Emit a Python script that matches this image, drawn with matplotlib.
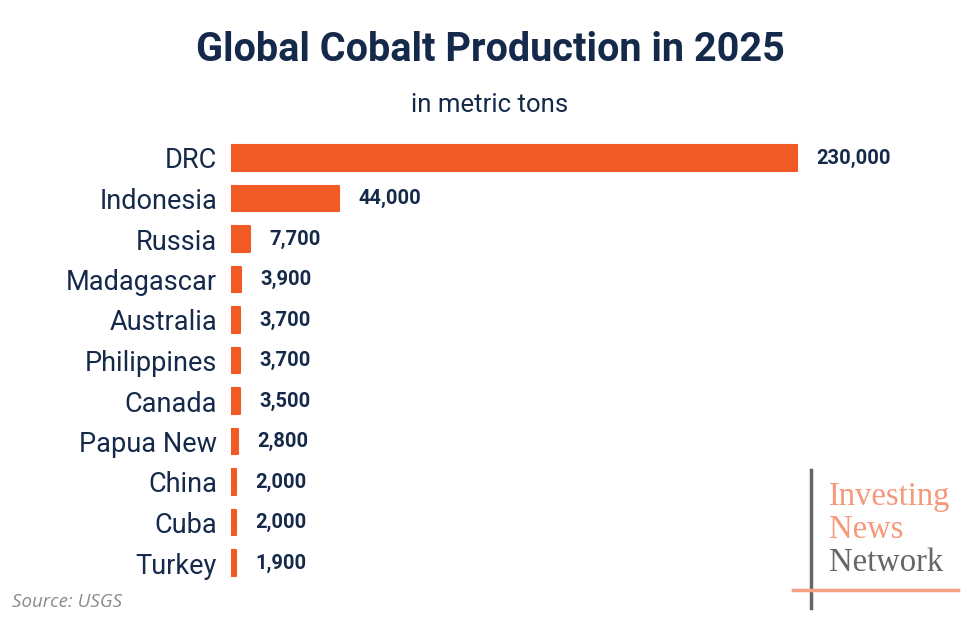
import matplotlib.pyplot as plt

countries = ["DRC", "Indonesia", "Russia", "Madagascar", "Australia", "Philippines",
             "Canada", "Papua New", "China", "Cuba", "Turkey"]
production = [230000, 44000, 7700, 3900, 3700, 3700, 3500, 2800, 2000, 2000, 1900]
value_labels = ["230,000", "44,000", "7,700", "3,900", "3,700", "3,700",
                "3,500", "2,800", "2,000", "2,000", "1,900"]

BAR_COLOR = "#F15A24"
NAVY = "#15294A"

plt.rcParams["font.family"] = ["Roboto", "DejaVu Sans"]

fig = plt.figure(figsize=(9.8, 6.22), dpi=100)
ax = fig.add_axes([231 / 980, 1 - 583.25 / 622, 640 / 980, (583.25 - 137.75) / 622])

y = list(range(len(countries)))
ax.barh(y, production, height=0.64, color=BAR_COLOR, edgecolor=BAR_COLOR,
        linewidth=1.5, joinstyle="round")
ax.set_xlim(0, 260000)
ax.set_ylim(len(countries) - 0.5, -0.5)

for yi, v, lab in zip(y, production, value_labels):
    ax.annotate(lab, (v, yi), xytext=(14, 0), textcoords="offset points",
                ha="left", va="center", fontsize=14.5, fontweight="bold", color=NAVY)

ax.set_yticks(y)
ax.set_yticklabels(countries, fontsize=19.5, color=NAVY)
ax.tick_params(axis="y", length=0, pad=10)
ax.set_xticks([])
for s in ax.spines.values():
    s.set_visible(False)

fig.text(0.5, 1 - 50 / 622, "Global Cobalt Production in 2025", ha="center", va="center",
         fontsize=28.5, fontweight="bold", color=NAVY)
fig.text(0.5, 1 - 105 / 622, "in metric tons", ha="center", va="center",
         fontsize=18.5, color=NAVY)
fig.text(12 / 980, 1 - 602 / 622, "Source: USGS", ha="left", va="center",
         fontsize=13.5, style="italic", color="#8A8A8A", family=["Open Sans", "DejaVu Sans"])

# logo
fig.add_artist(plt.Line2D([811 / 980, 811 / 980], [1 - 470 / 622, 1 - 608 / 622],
                          color="#666666", lw=2.5, transform=fig.transFigure))
fig.add_artist(plt.Line2D([793 / 980, 958 / 980], [1 - 590 / 622, 1 - 590 / 622],
                          color="#F4A185", lw=2.5, transform=fig.transFigure))
serif = ["Liberation Serif", "DejaVu Serif"]
fig.text(829 / 980, 1 - 497 / 622, "Investing", ha="left", va="center", fontsize=23.5,
         color="#F4997A", family=serif)
fig.text(829 / 980, 1 - 530 / 622, "News", ha="left", va="center", fontsize=23.5,
         color="#F4997A", family=serif)
fig.text(829 / 980, 1 - 563 / 622, "Network", ha="left", va="center", fontsize=23.5,
         color="#666666", family=serif)

fig.savefig("out.png", dpi=100, facecolor="white")
